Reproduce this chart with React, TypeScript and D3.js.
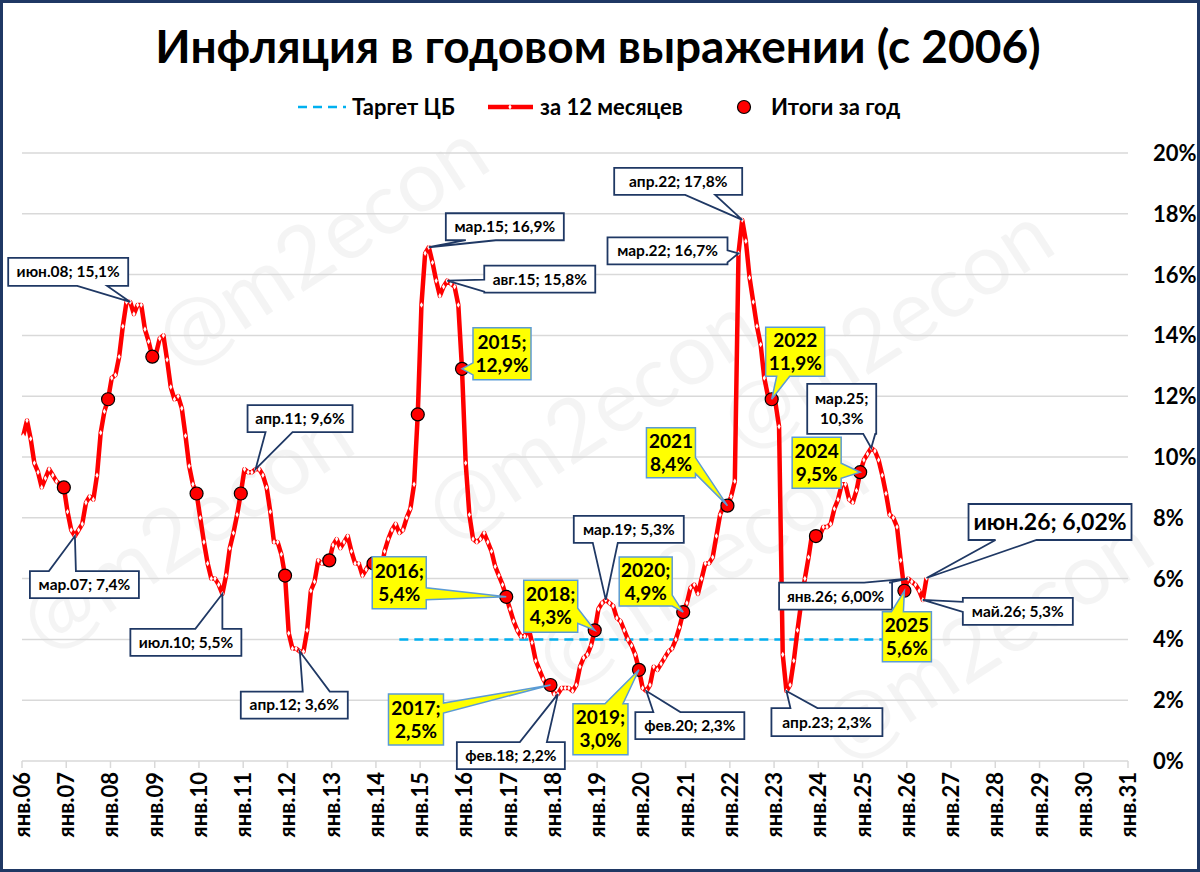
import React from 'react';
import * as d3 from 'd3';

// годовая инфляция (г/г, %), помесячно янв..дек, начиная с 2006
const firstYear = 2006;
const cpiMonthly: number[][] = [
    [10.7, 11.2, 10.6, 9.8, 9.5, 9.0, 9.3, 9.6, 9.4, 9.2, 9.1, 9.0],
    [8.2, 7.6, 7.4, 7.6, 7.8, 8.5, 8.7, 8.6, 9.4, 10.8, 11.5, 11.9],
    [12.6, 12.7, 13.3, 14.3, 15.1, 15.1, 14.7, 15.0, 15.0, 14.2, 13.8, 13.3],
    [13.4, 13.9, 14.0, 13.2, 12.3, 11.9, 12.0, 11.6, 10.7, 9.7, 9.1, 8.8],
    [8.0, 7.2, 6.5, 6.0, 6.0, 5.8, 5.5, 6.1, 7.0, 7.5, 8.1, 8.8],
    [9.6, 9.5, 9.5, 9.6, 9.6, 9.4, 9.0, 8.2, 7.2, 7.2, 6.8, 6.1],
    [4.2, 3.7, 3.7, 3.6, 3.6, 4.3, 5.6, 5.9, 6.6, 6.5, 6.5, 6.6],
    [7.1, 7.3, 7.0, 7.2, 7.4, 6.9, 6.5, 6.5, 6.1, 6.3, 6.5, 6.5],
    [6.1, 6.2, 6.9, 7.3, 7.6, 7.8, 7.5, 7.6, 8.0, 8.3, 9.1, 11.4],
    [15.0, 16.7, 16.9, 16.4, 15.8, 15.3, 15.6, 15.8, 15.7, 15.6, 15.0, 12.9],
    [9.8, 8.1, 7.3, 7.2, 7.3, 7.5, 7.2, 6.9, 6.4, 6.1, 5.8, 5.4],
    [5.0, 4.6, 4.3, 4.1, 4.1, 4.4, 3.9, 3.3, 3.0, 2.7, 2.5, 2.5],
    [2.2, 2.2, 2.4, 2.4, 2.4, 2.3, 2.5, 3.1, 3.4, 3.5, 3.8, 4.3],
    [5.0, 5.2, 5.3, 5.2, 5.1, 4.7, 4.6, 4.3, 4.0, 3.8, 3.5, 3.0],
    [2.4, 2.3, 2.5, 3.1, 3.0, 3.2, 3.4, 3.6, 3.7, 4.0, 4.4, 4.9],
    [5.2, 5.7, 5.8, 5.5, 6.0, 6.5, 6.5, 6.7, 7.4, 8.1, 8.4, 8.4],
    [8.7, 9.2, 16.7, 17.8, 17.1, 15.9, 15.1, 14.3, 13.7, 12.6, 12.0, 11.9],
    [11.8, 11.0, 3.5, 2.3, 2.5, 3.3, 4.3, 5.2, 6.0, 6.7, 7.5, 7.4],
    [7.4, 7.7, 7.7, 7.8, 8.3, 8.6, 9.1, 9.1, 8.6, 8.5, 8.9, 9.5],
    [9.9, 10.1, 10.3, 10.2, 9.9, 9.4, 8.8, 8.1, 8.0, 7.7, 6.6, 5.6],
    [6.0, 5.9, 5.8, 5.6, 5.3, 6.02],
];

// итоги за год (декабрь к декабрю)
const annualYears = d3.range(2006, 2026);
const annualCpi = [9.0, 11.9, 13.3, 8.8, 8.8, 6.1, 6.6, 6.5, 11.4, 12.9, 5.4, 2.5, 4.3, 3.0, 4.9, 8.4, 11.9, 7.4, 9.5, 5.6];

// таргет ЦБ
const targetValue = 4;
const targetFrom: [number, number] = [2014, 6];
const targetTo: [number, number] = [2025, 5];

const tickYears = d3.range(2006, 2032);
const tickLabels = tickYears.map((y) => `янв.${String(y % 100).padStart(2, '0')}`);
const yTicks = d3.range(0, 21, 2);

const legendLabels = ['Таргет ЦБ', 'за 12 месяцев', 'Итоги за год'];
const title = 'Инфляция в годовом выражении (с 2006)';

type Side = 'top' | 'right' | 'bottom' | 'left';
type Note = {
    year: number;
    month: number; // 0..11; для итогов года — 11
    lines: string[];
    kind: 'white' | 'yellow' | 'big';
    box: [number, number, number, number]; // dx, dy от точки, ширина, высота
    side: Side;
    base: [number, number]; // основание выноски вдоль стороны
};

const notes: Note[] = [
    { year: 2007, month: 2, lines: ['мар.07; 7,4%'], kind: 'white', box: [-45, 35, 109, 27], side: 'top', base: [19, 46] },
    { year: 2008, month: 5, lines: ['июн.08; 15,1%'], kind: 'white', box: [-122, -44, 120, 28], side: 'bottom', base: [69, 99] },
    { year: 2010, month: 6, lines: ['июл.10; 5,5%'], kind: 'white', box: [-92, 35, 111, 27], side: 'top', base: [65, 92] },
    { year: 2011, month: 3, lines: ['апр.11; 9,6%'], kind: 'white', box: [-8, -64, 105, 27], side: 'bottom', base: [18, 45] },
    { year: 2012, month: 3, lines: ['апр.12; 3,6%'], kind: 'white', box: [-59, 40, 107, 27], side: 'top', base: [62, 89] },
    { year: 2015, month: 2, lines: ['мар.15; 16,9%'], kind: 'white', box: [17, -34, 118, 27], side: 'bottom', base: [20, 50] },
    { year: 2015, month: 7, lines: ['авг.15; 15,8%'], kind: 'white', box: [37, -15, 111, 27], side: 'left', base: [14, 26] },
    { year: 2018, month: 1, lines: ['фев.18; 2,2%'], kind: 'white', box: [-101, 48, 108, 27], side: 'top', base: [63, 90] },
    { year: 2019, month: 2, lines: ['мар.19; 5,3%'], kind: 'white', box: [-32, -84, 110, 27], side: 'bottom', base: [19, 44] },
    { year: 2020, month: 1, lines: ['фев.20; 2,3%'], kind: 'white', box: [-11, 21, 109, 27], side: 'top', base: [18, 45] },
    { year: 2022, month: 2, lines: ['мар.22; 16,7%'], kind: 'white', box: [-131, -16, 120, 27], side: 'right', base: [13, 25] },
    { year: 2022, month: 3, lines: ['апр.22; 17,8%'], kind: 'white', box: [-128, -52, 128, 27], side: 'bottom', base: [71, 101] },
    { year: 2023, month: 3, lines: ['апр.23; 2,3%'], kind: 'white', box: [-15, 17, 111, 28], side: 'top', base: [19, 46] },
    { year: 2025, month: 2, lines: ['мар.25;', '10,3%'], kind: 'white', box: [-64, -64, 69, 50], side: 'bottom', base: [56, 68] },
    { year: 2026, month: 0, lines: ['янв.26; 6,00%'], kind: 'white', box: [-129, 4, 113, 27], side: 'top', base: [85, 110] },
    { year: 2026, month: 4, lines: ['май.26; 5,3%'], kind: 'white', box: [40, -2, 110, 27], side: 'left', base: [4, 14] },
    { year: 2026, month: 5, lines: ['июн.26; 6,02%'], kind: 'big', box: [42, -74, 163, 36], side: 'bottom', base: [27, 68] },
    { year: 2015, month: 11, lines: ['2015;', '12,9%'], kind: 'yellow', box: [11, -41, 58, 52], side: 'left', base: [35, 47] },
    { year: 2016, month: 11, lines: ['2016;', '5,4%'], kind: 'yellow', box: [-134, -40, 54, 52], side: 'right', base: [31, 43] },
    { year: 2017, month: 11, lines: ['2017;', '2,5%'], kind: 'yellow', box: [-162, 9, 55, 51], side: 'right', base: [9, 19] },
    { year: 2018, month: 11, lines: ['2018;', '4,3%'], kind: 'yellow', box: [-71, -50, 54, 52], side: 'right', base: [28, 43] },
    { year: 2019, month: 11, lines: ['2019;', '3,0%'], kind: 'yellow', box: [-66, 34, 55, 51], side: 'top', base: [32, 50] },
    { year: 2020, month: 11, lines: ['2020;', '4,9%'], kind: 'yellow', box: [-64, -55, 53, 49], side: 'right', base: [38, 49] },
    { year: 2021, month: 11, lines: ['2021', '8,4%'], kind: 'yellow', box: [-81, -78, 49, 50], side: 'right', base: [30, 46] },
    { year: 2022, month: 11, lines: ['2022', '11,9%'], kind: 'yellow', box: [-6, -72, 59, 49], side: 'bottom', base: [11, 24] },
    { year: 2024, month: 11, lines: ['2024', '9,5%'], kind: 'yellow', box: [-68, -35, 49, 51], side: 'right', base: [26, 41] },
    { year: 2025, month: 11, lines: ['2025', '5,6%'], kind: 'yellow', box: [-22, 21, 49, 50], side: 'top', base: [9, 21] },
];

// водяной знак @m2econ, только целиком видимые копии
const watermarks: [number, number][] = [
    [180, 372], [45, 655], [450, 545], [560, 692], [745, 455], [845, 765],
];

const W = 1200;
const H = 872;
const FONT = "Lato, 'Open Sans', 'DejaVu Sans', sans-serif";
const NAVY = '#1F3864';

// месяц рисуется чуть правее начала месяца (как в исходном графике)
const t = (year: number, month: number) => year + (month + 0.35) / 12;

const callout = (x: number, y: number, w: number, h: number, side: Side, a: number, b: number, tx: number, ty: number) => {
    const p = d3.path();
    p.moveTo(x, y);
    if (side === 'top') { p.lineTo(x + a, y); p.lineTo(tx, ty); p.lineTo(x + b, y); }
    p.lineTo(x + w, y);
    if (side === 'right') { p.lineTo(x + w, y + a); p.lineTo(tx, ty); p.lineTo(x + w, y + b); }
    p.lineTo(x + w, y + h);
    if (side === 'bottom') { p.lineTo(x + b, y + h); p.lineTo(tx, ty); p.lineTo(x + a, y + h); }
    p.lineTo(x, y + h);
    if (side === 'left') { p.lineTo(x, y + b); p.lineTo(tx, ty); p.lineTo(x, y + a); }
    p.closePath();
    return p.toString();
};

const App: React.FC = () => {
    const x = d3.scaleLinear().domain([2006, 2031]).range([22, 1128]);
    const y = d3.scaleLinear().domain([0, 20]).range([761, 153]);

    const monthly = cpiMonthly.flatMap((row, i) =>
        row.map((v, m) => ({ year: firstYear + i, month: m, value: v })),
    );
    const annual = annualYears.map((yr, i) => ({ year: yr, value: annualCpi[i] }));
    const target = monthly.filter((d) => {
        const k = d.year * 12 + d.month;
        return k >= targetFrom[0] * 12 + targetFrom[1] && k <= targetTo[0] * 12 + targetTo[1];
    });

    const line = d3
        .line<{ year: number; month: number; value: number }>()
        .x((d) => x(t(d.year, d.month)))
        .y((d) => y(d.value));
    const targetLine = d3
        .line<{ year: number; month: number }>()
        .x((d) => x(t(d.year, d.month)))
        .y(() => y(targetValue));
    const diamond = d3.symbol().type(d3.symbolDiamond).size(9)() as string;

    const valueAt = (n: Note) => {
        if (n.kind === 'yellow') return annualCpi[annualYears.indexOf(n.year)];
        return cpiMonthly[n.year - firstYear][n.month];
    };

    return (
        <svg width={W} height={H} style={{ position: 'absolute', left: 0, top: 0, background: '#fff' }} fontFamily={FONT}>
            <rect x={0} y={0} width={W} height={H} fill="#fff" />

            {/* водяные знаки */}
            <g fill="#000" fillOpacity={0.045} fontSize={86}>
                {watermarks.map(([wx, wy], i) => (
                    <text key={i} transform={`translate(${wx},${wy}) rotate(-33)`}>@m2econ</text>
                ))}
            </g>

            <text x={598} y={63} textAnchor="middle" fontSize={46} fontWeight={700}>{title}</text>

            {/* легенда */}
            <g fontSize={22} fontWeight={700}>
                <line x1={298} x2={346} y1={107} y2={107} stroke="#00B0F0" strokeWidth={2.5} strokeDasharray="9 6" />
                <text x={352} y={115}>{legendLabels[0]}</text>
                <line x1={488} x2={533} y1={107} y2={107} stroke="#FF0000" strokeWidth={4.5} />
                <path d={diamond} transform="translate(510,107)" fill="#fff" />
                <text x={540} y={115}>{legendLabels[1]}</text>
                <circle cx={744} cy={107} r={6.5} fill="#FF0000" stroke="#000" strokeWidth={1.2} />
                <text x={771} y={115}>{legendLabels[2]}</text>
            </g>

            {/* сетка */}
            <g stroke="#D9D9D9" strokeWidth={1.5}>
                {yTicks.map((v) => (
                    <line key={v} x1={x(2006)} x2={x(2031)} y1={y(v)} y2={y(v)} />
                ))}
                {tickYears.map((yr) => (
                    <line key={yr} x1={x(yr)} x2={x(yr)} y1={y(0)} y2={y(0) + 7} />
                ))}
            </g>

            {/* ось Y справа */}
            <g fontSize={22} fontWeight={700}>
                {yTicks.map((v) => (
                    <text key={v} x={1153} y={y(v) + 8}>{`${v}%`}</text>
                ))}
            </g>

            {/* ось X */}
            <g fontSize={22} fontWeight={700}>
                {tickYears.map((yr, i) => (
                    <text key={yr} transform={`translate(${x(yr) + 8},${y(0) + 11}) rotate(-90)`} textAnchor="end">
                        {tickLabels[i]}
                    </text>
                ))}
            </g>

            <path d={targetLine(target) ?? ''} fill="none" stroke="#00B0F0" strokeWidth={2.5} strokeDasharray="9 6" />

            <path d={line(monthly) ?? ''} fill="none" stroke="#FF0000" strokeWidth={4.5} strokeLinejoin="round" />
            <g fill="#fff">
                {monthly.map((d, i) => (
                    <path key={i} d={diamond} transform={`translate(${x(t(d.year, d.month))},${y(d.value)})`} />
                ))}
            </g>

            <g fill="#FF0000" stroke="#000" strokeWidth={1.2}>
                {annual.map((d) => (
                    <circle key={d.year} cx={x(t(d.year, 11))} cy={y(d.value)} r={6.5} />
                ))}
            </g>

            {/* выноски */}
            {notes.map((n, i) => {
                const tx = x(t(n.year, n.month));
                const ty = y(valueAt(n));
                const [dx, dy, w, h] = n.box;
                const bx = tx + dx;
                const by = ty + dy;
                const yellow = n.kind === 'yellow';
                const fs = n.kind === 'big' ? 23 : yellow ? 19 : 15.5;
                const lh = yellow ? 23 : 20;
                const top = by + h / 2 - ((n.lines.length - 1) * lh) / 2 + fs * 0.35;
                return (
                    <g key={i}>
                        <path
                            d={callout(bx, by, w, h, n.side, n.base[0], n.base[1], tx, ty)}
                            fill={yellow ? '#FFFF00' : '#fff'}
                            stroke={yellow ? '#5B9BD5' : NAVY}
                            strokeWidth={yellow ? 1.5 : 1.8}
                            strokeLinejoin="miter"
                        />
                        {n.lines.map((l, j) => (
                            <text key={j} x={bx + w / 2} y={top + j * lh} textAnchor="middle" fontSize={fs} fontWeight={700}>
                                {l}
                            </text>
                        ))}
                    </g>
                );
            })}

            <rect x={1.5} y={1.5} width={W - 3} height={H - 3} fill="none" stroke={NAVY} strokeWidth={3} />
        </svg>
    );
};

export default App;
